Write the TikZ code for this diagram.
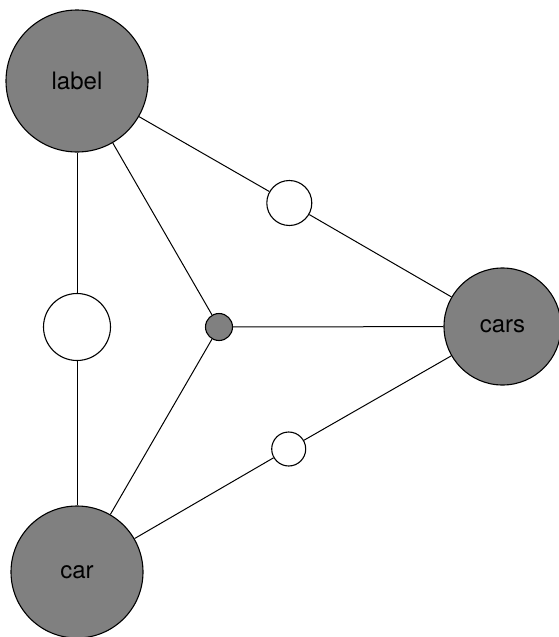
\documentclass[tikz,border=0pt]{standalone}
\usepackage{fontspec}
\setmainfont{TeX Gyre Heros}
\begin{document}
\begin{tikzpicture}[x=1pt,y=-1pt,
  big/.style={circle,draw=black,fill={rgb,255:red,128;green,128;blue,128},line width=1.1pt,inner sep=0pt,font=\fontsize{24}{28}\selectfont},
  hub/.style={circle,draw=black,fill=white,line width=1.1pt,inner sep=0pt},
  link/.style={draw=black,line width=1pt}]
\useasboundingbox (0,0) rectangle (559,637);
\node[big,minimum size=142pt] (label) at (77,81) {label};
\node[big,minimum size=117pt] (cars) at (502.5,326.5) {cars};
\node[big,minimum size=132pt] (car) at (77,572) {car};
\node[big,minimum size=27pt] (mid) at (219,327) {};
\node[hub,minimum size=45pt] (top) at (289.3,203) {};
\node[hub,minimum size=67pt] (left) at (77,327) {};
\node[hub,minimum size=34pt] (bot) at (288.7,449) {};
\draw[link] (label) -- (left);
\draw[link] (left) -- (car);
\draw[link] (label) -- (top);
\draw[link] (top) -- (cars);
\draw[link] (car) -- (bot);
\draw[link] (bot) -- (cars);
\draw[link] (label) -- (mid);
\draw[link] (car) -- (mid);
\draw[link] (cars) -- (mid);
\end{tikzpicture}
\end{document}
